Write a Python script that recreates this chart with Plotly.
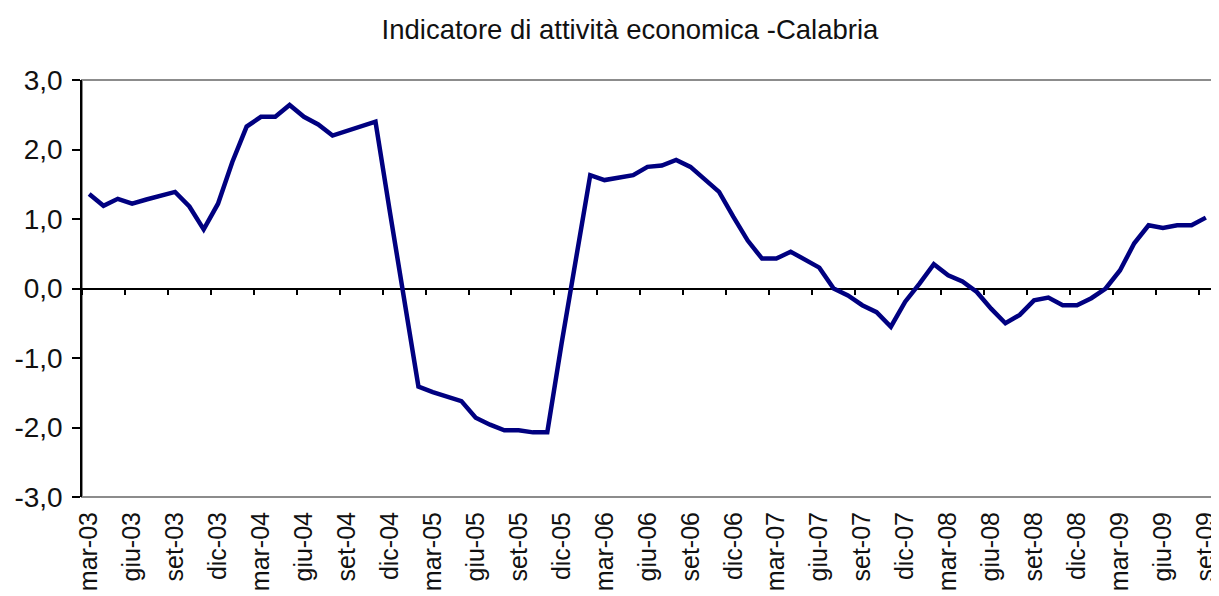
import plotly.graph_objects as go

# Indicatore di attività economica - Calabria, monthly mar-03 .. set-09
values = [
    1.36, 1.19, 1.29, 1.22, 1.28, 1.33, 1.39, 1.18, 0.85, 1.22,
    1.82, 2.33, 2.47, 2.47, 2.64, 2.47, 2.36, 2.20, 2.27, 2.33,
    2.40, 1.11, -0.16, -1.41, -1.49, -1.56, -1.62, -1.86, -1.96, -2.04,
    -2.04, -2.07, -2.07, -0.79, 0.43, 1.63, 1.56, 1.59, 1.63, 1.75,
    1.77, 1.85, 1.75, 1.57, 1.39, 1.03, 0.69, 0.43, 0.43, 0.53,
    0.41, 0.30, 0.00, -0.10, -0.24, -0.34, -0.55, -0.19, 0.07, 0.35,
    0.19, 0.10, -0.05, -0.29, -0.50, -0.38, -0.17, -0.13, -0.24, -0.24,
    -0.14, 0.00, 0.26, 0.65, 0.91, 0.87, 0.91, 0.91, 1.02,
]

# one label every 3 months
tick_labels = [
    "mar-03", "giu-03", "set-03", "dic-03",
    "mar-04", "giu-04", "set-04", "dic-04",
    "mar-05", "giu-05", "set-05", "dic-05",
    "mar-06", "giu-06", "set-06", "dic-06",
    "mar-07", "giu-07", "set-07", "dic-07",
    "mar-08", "giu-08", "set-08", "dic-08",
    "mar-09", "giu-09", "set-09",
]

y_ticks = [-3, -2, -1, 0, 1, 2, 3]
y_tick_text = ["-3,0", "-2,0", "-1,0", "0,0", "1,0", "2,0", "3,0"]

months = list(range(len(values)))
step = 3
label_pos = months[::step]
boundaries = [m - 0.5 for m in months[::step]]
x_range = [-0.5, len(values) - 0.5]

font_family = "Liberation Sans, Arial, sans-serif"

fig = go.Figure()

fig.add_trace(go.Scatter(
    x=months, y=values,
    mode="lines",
    line=dict(color="#000080", width=4.5),
    hoverinfo="skip",
    showlegend=False,
    cliponaxis=False,
))

# invisible copy so the zero-line axis (x2) gets drawn
fig.add_trace(go.Scatter(
    x=months, y=values,
    xaxis="x2",
    mode="lines",
    line=dict(width=0),
    opacity=0,
    hoverinfo="skip",
    showlegend=False,
))

# page body has an 8px margin, so the figure is 8px smaller than the window
fig.update_layout(
    width=1211, height=588,
    margin=dict(l=74, r=6, t=72, b=99, autoexpand=False),
    paper_bgcolor="white",
    plot_bgcolor="white",
    font=dict(family=font_family, color="#111111"),
    title=dict(
        text="Indicatore di attività economica -Calabria",
        font=dict(size=27.5, color="#111111"),
        x=0.5136, xanchor="center", xref="container",
        y=0.964, yanchor="middle", yref="container",
    ),
    xaxis=dict(
        range=x_range,
        tickvals=label_pos,
        ticktext=tick_labels,
        tickangle=-90,
        ticks="",
        ticklabelstandoff=9,
        tickfont=dict(size=25, color="#111111"),
        showgrid=False,
        zeroline=False,
        showline=False,
        automargin=False,
    ),
    xaxis2=dict(
        range=x_range,
        overlaying="x",
        anchor="free",
        position=0.5,
        tickvals=boundaries,
        ticks="outside",
        ticklen=6,
        tickwidth=1.5,
        tickcolor="black",
        showticklabels=False,
        showline=True,
        linecolor="black",
        linewidth=1.5,
        showgrid=False,
        zeroline=False,
        layer="below traces",
        automargin=False,
    ),
    yaxis=dict(
        range=[-3, 3],
        domain=[0, 1],
        tickvals=y_ticks,
        ticktext=y_tick_text,
        ticks="outside",
        ticklen=8,
        tickwidth=1.5,
        tickcolor="black",
        ticklabelstandoff=4,
        tickfont=dict(size=28, color="#111111"),
        showline=True,
        linecolor="black",
        linewidth=1.5,
        showgrid=False,
        zeroline=False,
        automargin=False,
    ),
    shapes=[dict(
        type="rect", xref="x domain", yref="y domain",
        x0=0, x1=1, y0=0, y1=1,
        line=dict(color="#8c8c8c", width=2),
        layer="below",
    )],
)

fig.write_html("out.html")
